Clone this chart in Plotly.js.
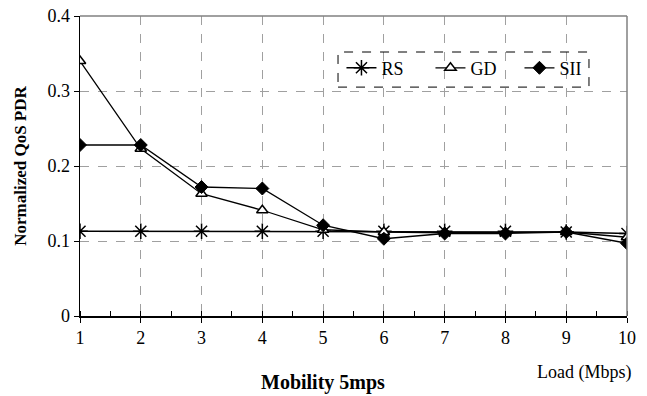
<!DOCTYPE html>
<html>
<head>
<meta charset="utf-8">
<script src="https://cdn.plot.ly/plotly-3.0.1.min.js"></script>
<style>html,body{margin:0;padding:0;background:#fff;}#chart{width:647px;height:396px;}</style>
</head>
<body>
<div id="chart"></div>
<script>
var loads = [1, 2, 3, 4, 5, 6, 7, 8, 9, 10];
var rsValues  = [0.113, 0.113, 0.113, 0.113, 0.113, 0.113, 0.113, 0.113, 0.112, 0.110];
var gdValues  = [0.340, 0.223, 0.163, 0.141, 0.115, 0.112, 0.111, 0.111, 0.112, 0.105];
var siiValues = [0.228, 0.228, 0.172, 0.170, 0.121, 0.103, 0.110, 0.110, 0.112, 0.097];
var yTicks = [0, 0.1, 0.2, 0.3, 0.4];
var yTickLabels = ['0', '0.1', '0.2', '0.3', '0.4'];

var serif = "'Liberation Serif', 'Times New Roman', serif";

var traces = [
  {x: loads, y: rsValues, name: 'RS', mode: 'lines+markers',
   line: {color: '#000', width: 1.5},
   marker: {symbol: 'asterisk-open', size: 13, color: '#000', line: {color: '#000', width: 1.5}}},
  {x: loads, y: gdValues, name: 'GD', mode: 'lines+markers',
   line: {color: '#000', width: 1.3},
   marker: {symbol: 'triangle-up', size: 10, color: '#fff', line: {color: '#000', width: 1.5}}},
  {x: loads, y: siiValues, name: 'SII', mode: 'lines+markers',
   line: {color: '#000', width: 1.3},
   marker: {symbol: 'diamond', size: 10, color: '#000', line: {color: '#000', width: 1}}}
];

var layout = {
  width: 647, height: 396,
  margin: {l: 80, r: 20, t: 16, b: 80},
  paper_bgcolor: '#fff', plot_bgcolor: '#fff',
  font: {family: serif, size: 15, color: '#000'},
  showlegend: true,
  legend: {orientation: 'h', x: 0.478, y: 0.888, xanchor: 'left', yanchor: 'top',
           bgcolor: 'rgba(0,0,0,0)', borderwidth: 0, entrywidth: 44, entrywidthmode: 'pixels',
           font: {family: serif, size: 18, color: '#000'}},
  xaxis: {range: [1, 10], tickvals: loads, ticktext: loads.map(String),
          showgrid: true, gridcolor: '#a0a0a0', griddash: 'dash', gridwidth: 1,
          showline: true, linecolor: '#000', linewidth: 1.5, zeroline: false,
          ticks: 'outside', ticklen: 5, tickcolor: '#000', tickwidth: 1,
          minor: {dtick: 0.5, tick0: 1.5, ticks: 'inside', ticklen: 5, tickcolor: '#000', showgrid: false},
          tickfont: {family: serif, size: 18}, fixedrange: true},
  yaxis: {range: [0, 0.4], tickvals: yTicks, ticktext: yTickLabels,
          showgrid: true, gridcolor: '#a0a0a0', griddash: 'dash', gridwidth: 1,
          showline: true, linecolor: '#000', linewidth: 1.5, zeroline: false,
          ticks: 'outside', ticklen: 5, tickcolor: '#000',
          tickfont: {family: serif, size: 18},
          title: {text: '<b>Normalized QoS PDR</b>', font: {family: serif, size: 17}, standoff: 16}},
  shapes: [
    {type: 'line', xref: 'paper', yref: 'paper', x0: 0, x1: 1, y0: 1, y1: 1, line: {color: '#808080', width: 1.5}},
    {type: 'line', xref: 'paper', yref: 'paper', x0: 1, x1: 1, y0: 0, y1: 1, line: {color: '#808080', width: 1.5}},
    {type: 'rect', xref: 'paper', yref: 'paper', x0: 0.4717, x1: 0.9305, y0: 0.763, y1: 0.88,
     line: {color: '#000', width: 1, dash: 'dash'}, fillcolor: 'rgba(0,0,0,0)'}
  ],
  annotations: [
    {xref: 'paper', yref: 'paper', x: 0.445, y: -0.223, xanchor: 'center', yanchor: 'middle', showarrow: false,
     text: '<b>Mobility 5mps</b>', font: {family: serif, size: 20, color: '#000'}},
    {xref: 'paper', yref: 'paper', x: 1.011, y: -0.187, xanchor: 'right', yanchor: 'middle', showarrow: false,
     text: 'Load (Mbps)', font: {family: serif, size: 18, color: '#000'}}
  ]
};

Plotly.newPlot('chart', traces, layout, {displayModeBar: false, staticPlot: true});
</script>
</body>
</html>
